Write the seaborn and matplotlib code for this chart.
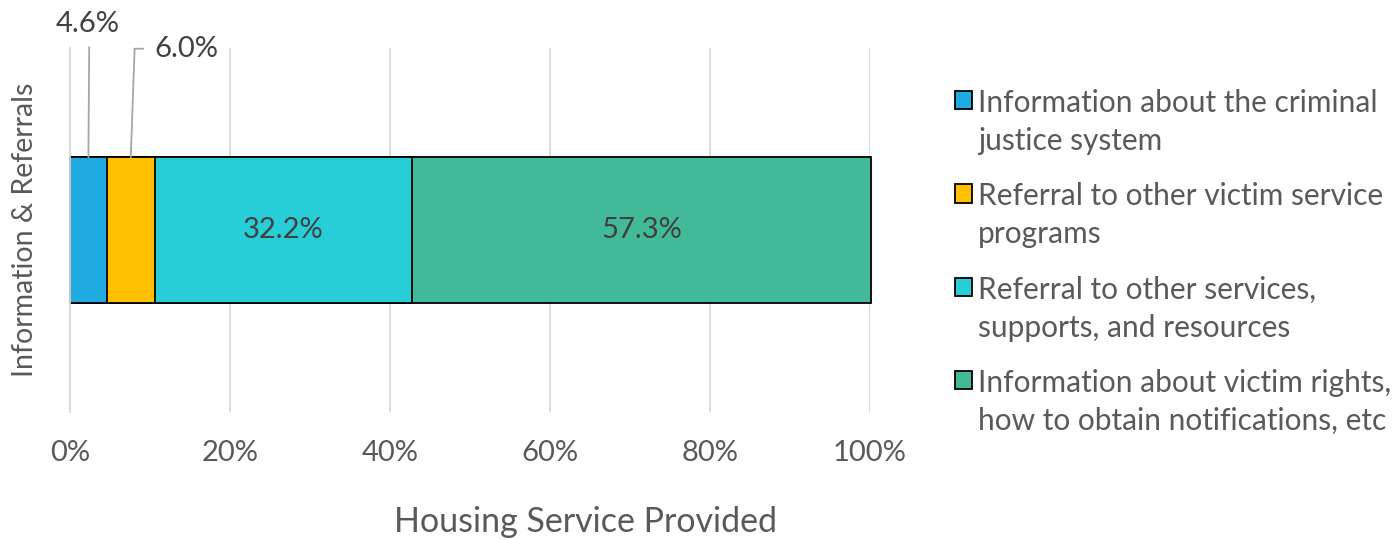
import numpy as np
import pandas as pd
import matplotlib
matplotlib.use("Agg")
import matplotlib.pyplot as plt
import seaborn as sns
from matplotlib.patches import Patch, Rectangle
from matplotlib.legend_handler import HandlerPatch

# Verileri tanımla
category = "Information & Referrals"
series = [
    "Information about the criminal\njustice system",
    "Referral to other victim service\nprograms",
    "Referral to other services,\nsupports, and resources",
    "Information about victim rights,\nhow to obtain notifications, etc",
]
values = [4.6, 6.0, 32.2, 57.3]
colors = ["#1FAAE1", "#FFC000", "#27CDD7", "#43BA97"]
x_ticks = [0, 20, 40, 60, 80, 100]

sns.set_theme(style="white")
plt.rcParams["font.family"] = ["Lato", "DejaVu Sans"]
text_color = "#595959"
label_color = "#404040"
grid_color = "#D9D9D9"
fs = 21


# Lejant kutusunu ilk satıra hizala
class TopHandler(HandlerPatch):
    def create_artists(self, legend, orig_handle, xdescent, ydescent, width, height,
                       fontsize, trans):
        p = Rectangle((-xdescent, -ydescent + 0.76 * fontsize), width, height)
        self.update_prop(p, orig_handle, legend)
        p.set_transform(trans)
        return [p]


fig = plt.figure(figsize=(13.94, 5.4), dpi=100)
ax = fig.add_axes([70 / 1394, 1 - 412 / 540, 800 / 1394, 364 / 540])

# Yığılmış çubuk: kümülatif değerleri büyükten küçüğe çiz
cum = np.cumsum(values)
for i in range(len(values) - 1, -1, -1):
    df = pd.DataFrame({"kategori": [category], "deger": [cum[i]]})
    sns.barplot(data=df, x="deger", y="kategori", orient="h", color=colors[i],
                saturation=1, width=0.4, edgecolor="black", linewidth=1.3, ax=ax)
for p in ax.patches:
    p.set_clip_on(False)

ax.set_xlim(0, 100)
ax.set_ylim(0.5, -0.5)
ax.set_xticks(x_ticks)
ax.set_xticklabels([f"{t}%" for t in x_ticks])
ax.tick_params(axis="x", length=0, pad=20, labelsize=fs, labelcolor=text_color)
ax.set_yticks([-0.5, 0.5])
ax.set_yticklabels(["", ""])
ax.tick_params(axis="y", length=7, width=1.3, color=grid_color, direction="out")
ax.xaxis.grid(True, color=grid_color, linewidth=1.3)
ax.set_axisbelow(True)
for s in ["top", "right", "bottom"]:
    ax.spines[s].set_visible(False)
ax.spines["left"].set_color(grid_color)
ax.spines["left"].set_linewidth(1.3)

ax.set_xlabel("Housing Service Provided", fontsize=24.5, color=text_color)
ax.xaxis.set_label_coords(0.644, -0.302)
ax.xaxis.label.set_va("center")
ax.set_ylabel(category, fontsize=20.5, color=text_color)
ax.yaxis.set_label_coords(-0.056, 0.5)
ax.yaxis.label.set_va("center")

# Etiketler
lefts = cum - np.array(values)
for i in [2, 3]:
    ax.text(lefts[i] + values[i] / 2, 0, f"{values[i]:.1f}%", ha="center", va="center",
            fontsize=fs, color=label_color)

ax.annotate(f"{values[0]:.1f}%", xy=(lefts[0] + values[0] / 2, -0.2),
            xytext=(0.0225, 1.066), textcoords="axes fraction", ha="center", va="center",
            fontsize=fs, color=label_color,
            arrowprops=dict(arrowstyle="-", color="#A6A6A6", lw=1.3,
                            relpos=(0.52, 0), shrinkA=5, shrinkB=0))
ax.annotate(f"{values[1]:.1f}%", xy=(lefts[1] + values[1] / 2, -0.2),
            xytext=(0.106, 0.998), textcoords="axes fraction", ha="left", va="center",
            fontsize=fs, color=label_color,
            arrowprops=dict(arrowstyle="-", color="#A6A6A6", lw=1.3,
                            relpos=(0, 0.5), shrinkA=6, shrinkB=0,
                            connectionstyle="angle,angleA=0,angleB=88,rad=0"))

handles = [Patch(facecolor=c, edgecolor="black", linewidth=1.3) for c in colors]
leg = fig.legend(handles, series, loc="upper left", bbox_to_anchor=(928 / 1394, 1 - 62 / 540),
                 frameon=False, fontsize=21.5, labelcolor=text_color,
                 handlelength=0.57, handleheight=0.57, handletextpad=0.2,
                 labelspacing=0.9, handler_map={Patch: TopHandler()})
for t in leg.get_texts():
    t.set_linespacing(1.45)

fig.savefig("out.png", dpi=100)
